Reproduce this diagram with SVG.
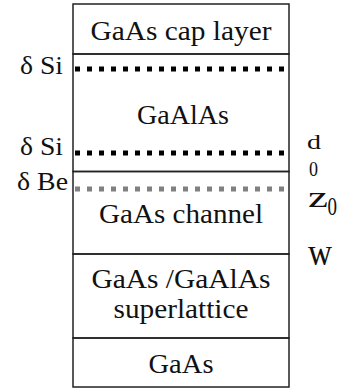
<svg xmlns="http://www.w3.org/2000/svg" width="341" height="392" viewBox="0 0 341 392">
<style>
text{font-family:"Liberation Serif","Times New Roman",serif;fill:#111}
.lbl{font-size:27px;text-anchor:middle}
.side{font-size:25px;text-anchor:start}
.edge{stroke:#222;stroke-width:1.5;fill:none}
.dot{stroke:#000;stroke-width:5;stroke-dasharray:5 7}
.dotg{stroke:#808080;stroke-width:5;stroke-dasharray:5 7}
</style>
<rect width="341" height="392" fill="#fff"/>
<g id="cap"><rect class="edge" x="73" y="4" width="216" height="50"/><text class="lbl" x="181" y="40" textLength="181" lengthAdjust="spacingAndGlyphs">GaAs cap layer</text></g>
<g id="gaalas"><rect class="edge" x="73" y="54" width="216" height="117.5"/><text class="lbl" x="183" y="124" textLength="92" lengthAdjust="spacingAndGlyphs">GaAlAs</text></g>
<g id="channel"><rect class="edge" x="73" y="171.5" width="216" height="82.5"/><text class="lbl" x="181" y="223" textLength="164" lengthAdjust="spacingAndGlyphs">GaAs channel</text></g>
<g id="superlattice"><rect class="edge" x="73" y="254" width="216" height="84"/><text class="lbl" x="181" y="288" textLength="179" lengthAdjust="spacingAndGlyphs">GaAs /GaAlAs</text><text class="lbl" x="181" y="318" textLength="135" lengthAdjust="spacingAndGlyphs">superlattice</text></g>
<g id="substrate"><rect class="edge" x="73" y="338" width="216" height="49"/><text class="lbl" x="181" y="373" textLength="65" lengthAdjust="spacingAndGlyphs">GaAs</text></g>
<g id="connectors">
<line class="dot" x1="75" y1="69" x2="289" y2="69"/>
<line class="dot" x1="75" y1="153" x2="289" y2="153"/>
<line class="dotg" x1="75" y1="189" x2="289" y2="189"/>
</g>
<g id="labels">
<text class="side" x="20" y="74" textLength="43" lengthAdjust="spacingAndGlyphs">δ Si</text>
<text class="side" x="20" y="155" textLength="43" lengthAdjust="spacingAndGlyphs">δ Si</text>
<text class="side" x="17" y="190" textLength="51" lengthAdjust="spacingAndGlyphs">δ Be</text>
<text x="307" y="149" font-size="21" textLength="14" lengthAdjust="spacingAndGlyphs">d</text>
<text x="309" y="176" font-size="21" textLength="9" lengthAdjust="spacingAndGlyphs">0</text>
<text x="308" y="207" font-size="30" textLength="20" lengthAdjust="spacingAndGlyphs">z</text>
<text x="327.5" y="215" font-size="26" textLength="9.5" lengthAdjust="spacingAndGlyphs">0</text>
<text x="308" y="265" font-size="38" textLength="24" lengthAdjust="spacingAndGlyphs">w</text>
</g>
</svg>
